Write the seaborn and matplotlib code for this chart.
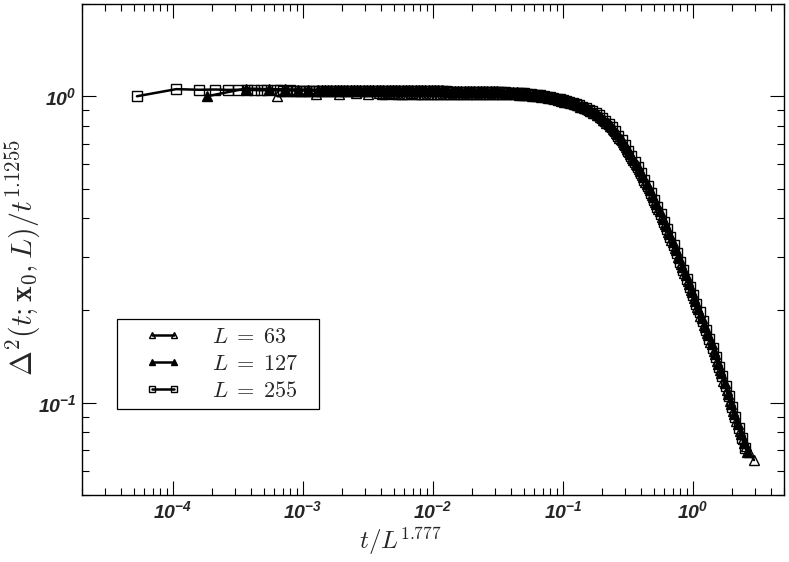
import matplotlib
matplotlib.use("Agg")
import matplotlib.pyplot as plt
from matplotlib.patches import Rectangle
import numpy as np
import seaborn as sns
from matplotlib.ticker import LogLocator, LogFormatterSciNotation, NullFormatter

# ---------------- data ----------------
labels = [r"$L\;=\;63$", r"$L\;=\;127$", r"$L\;=\;255$"]

# L = 63 (open triangles)
x_L63 = [6.35e-4, 1.27e-3, 1.91e-3, 2.54e-3, 3.18e-3,
         3.83e-3, 4.30e-3, 4.82e-3, 5.41e-3, 6.07e-3, 6.81e-3, 7.64e-3, 8.57e-3, 9.62e-3, 1.08e-2,
         1.21e-2, 1.36e-2, 1.53e-2, 1.71e-2, 1.92e-2, 2.15e-2, 2.42e-2, 2.71e-2, 3.04e-2, 3.41e-2,
         3.83e-2, 4.30e-2, 4.82e-2, 5.41e-2, 6.07e-2, 6.81e-2, 7.64e-2, 8.57e-2, 9.62e-2,
         0.108, 0.121, 0.136, 0.153, 0.171, 0.192, 0.215, 0.242, 0.271, 0.304,
         0.341, 0.383, 0.430, 0.482, 0.541, 0.607, 0.681, 0.764, 0.857, 0.962,
         1.08, 1.21, 1.36, 1.53, 1.71, 1.92, 2.15, 2.42, 2.71, 2.94]
y_L63 = [1.000, 1.018, 1.020, 1.021, 1.020,
         1.021, 1.020, 1.021, 1.020, 1.020, 1.021, 1.020, 1.019, 1.020, 1.019,
         1.019, 1.020, 1.019, 1.018, 1.019, 1.018, 1.018, 1.017, 1.017, 1.016,
         1.015, 1.014, 1.012, 1.008, 1.003, 0.997, 0.989, 0.979, 0.968,
         0.955, 0.941, 0.925, 0.906, 0.883, 0.855, 0.820, 0.780, 0.733, 0.682,
         0.629, 0.577, 0.526, 0.476, 0.428, 0.382, 0.339, 0.300, 0.265, 0.233,
         0.205, 0.180, 0.158, 0.137, 0.118, 0.101, 0.087, 0.076, 0.069, 0.065]
x_L63_b = [4.06e-3, 4.55e-3, 5.11e-3, 5.73e-3, 6.43e-3, 7.21e-3, 8.09e-3, 9.08e-3,
           1.02e-2, 1.14e-2, 1.28e-2, 1.44e-2, 1.61e-2, 1.81e-2, 2.03e-2, 2.28e-2, 2.56e-2, 2.87e-2,
           3.22e-2, 3.61e-2, 4.06e-2, 4.55e-2, 5.11e-2, 5.73e-2, 6.43e-2, 7.21e-2, 8.09e-2, 9.08e-2,
           0.102, 0.114, 0.128, 0.144, 0.161, 0.181, 0.203, 0.228, 0.256, 0.287,
           0.322, 0.361, 0.406, 0.455, 0.511, 0.573, 0.643, 0.721, 0.809, 0.908,
           1.02, 1.14, 1.28, 1.44, 1.61, 1.81, 2.03, 2.28, 2.56]
y_L63_b = [1.020, 1.021, 1.020, 1.020, 1.020, 1.020, 1.019, 1.020,
           1.019, 1.019, 1.019, 1.019, 1.018, 1.018, 1.018, 1.018, 1.017, 1.017,
           1.016, 1.015, 1.014, 1.013, 1.010, 1.005, 1.000, 0.993, 0.984, 0.973,
           0.961, 0.948, 0.933, 0.916, 0.895, 0.869, 0.838, 0.800, 0.757, 0.708,
           0.656, 0.603, 0.552, 0.501, 0.452, 0.405, 0.361, 0.320, 0.283, 0.249,
           0.219, 0.192, 0.169, 0.148, 0.128, 0.110, 0.094, 0.081, 0.072]

# L = 127 (filled triangles)
x_L127 = [1.83e-4, 3.65e-4, 5.48e-4, 7.31e-4, 9.13e-4, 1.10e-3,
          1.31e-3, 1.47e-3, 1.65e-3, 1.85e-3, 2.08e-3, 2.33e-3, 2.61e-3, 2.93e-3, 3.29e-3,
          3.69e-3, 4.14e-3, 4.65e-3, 5.21e-3, 5.85e-3, 6.56e-3, 7.36e-3, 8.26e-3, 9.27e-3,
          1.04e-2, 1.17e-2, 1.31e-2, 1.47e-2, 1.65e-2, 1.85e-2, 2.08e-2, 2.33e-2, 2.61e-2, 2.93e-2,
          3.29e-2, 3.69e-2, 4.14e-2, 4.65e-2, 5.21e-2, 5.85e-2, 6.56e-2, 7.36e-2, 8.26e-2, 9.27e-2,
          0.104, 0.117, 0.131, 0.147, 0.165, 0.185, 0.208, 0.233, 0.261, 0.293,
          0.329, 0.369, 0.414, 0.465, 0.521, 0.585, 0.656, 0.736, 0.826, 0.927,
          1.04, 1.17, 1.31, 1.47, 1.65, 1.85, 2.08, 2.33, 2.61]
y_L127 = [1.000, 1.060, 1.055, 1.053, 1.052, 1.051,
          1.050, 1.050, 1.049, 1.050, 1.049, 1.049, 1.048, 1.049, 1.048,
          1.048, 1.047, 1.048, 1.047, 1.047, 1.046, 1.047, 1.046, 1.046,
          1.045, 1.045, 1.044, 1.044, 1.043, 1.042, 1.042, 1.041, 1.040, 1.038,
          1.036, 1.034, 1.031, 1.027, 1.022, 1.016, 1.008, 0.999, 0.989, 0.978,
          0.966, 0.951, 0.937, 0.918, 0.897, 0.870, 0.838, 0.797, 0.752, 0.700,
          0.647, 0.595, 0.544, 0.493, 0.444, 0.398, 0.354, 0.314, 0.277, 0.244,
          0.215, 0.189, 0.166, 0.144, 0.125, 0.107, 0.092, 0.079, 0.069]
x_L127_b = [1.39e-3, 1.56e-3, 1.75e-3, 1.96e-3, 2.20e-3, 2.47e-3, 2.77e-3, 3.11e-3, 3.48e-3,
            3.91e-3, 4.39e-3, 4.92e-3, 5.52e-3, 6.19e-3, 6.95e-3, 7.80e-3, 8.75e-3, 9.82e-3,
            1.10e-2, 1.24e-2, 1.39e-2, 1.56e-2, 1.75e-2, 1.96e-2, 2.20e-2, 2.47e-2, 2.77e-2, 3.11e-2,
            3.48e-2, 3.91e-2, 4.39e-2, 4.92e-2, 5.52e-2, 6.19e-2, 6.95e-2, 7.80e-2, 8.75e-2, 9.82e-2,
            0.110, 0.124, 0.139, 0.156, 0.175, 0.196, 0.220, 0.247, 0.277, 0.311,
            0.348, 0.391, 0.439, 0.492, 0.552, 0.619, 0.695, 0.780, 0.875, 0.982,
            1.10, 1.24, 1.39, 1.56, 1.75, 1.96, 2.20, 2.47]
y_L127_b = [1.050, 1.049, 1.049, 1.049, 1.049, 1.048, 1.048, 1.048, 1.048,
            1.047, 1.047, 1.047, 1.047, 1.046, 1.046, 1.046, 1.046, 1.045,
            1.045, 1.044, 1.044, 1.043, 1.043, 1.042, 1.041, 1.040, 1.039, 1.037,
            1.035, 1.032, 1.029, 1.025, 1.019, 1.012, 1.004, 0.994, 0.984, 0.972,
            0.959, 0.944, 0.928, 0.908, 0.884, 0.854, 0.818, 0.775, 0.726, 0.674,
            0.621, 0.570, 0.519, 0.469, 0.421, 0.376, 0.334, 0.296, 0.261, 0.230,
            0.202, 0.177, 0.155, 0.134, 0.116, 0.099, 0.085, 0.074]

# L = 255 (open squares)
x_L255 = [5.29e-5, 1.06e-4, 1.59e-4, 2.12e-4, 2.65e-4, 3.17e-4, 3.70e-4, 4.23e-4, 4.76e-4, 5.29e-4,
          6.31e-4, 7.08e-4, 7.94e-4, 8.91e-4, 1.00e-3, 1.12e-3, 1.26e-3, 1.41e-3, 1.58e-3, 1.78e-3,
          2.00e-3, 2.24e-3, 2.51e-3, 2.82e-3, 3.16e-3, 3.55e-3, 3.98e-3, 4.47e-3, 5.01e-3, 5.62e-3,
          6.31e-3, 7.08e-3, 7.94e-3, 8.91e-3, 1.00e-2, 1.12e-2, 1.26e-2, 1.41e-2, 1.58e-2, 1.78e-2,
          2.00e-2, 2.24e-2, 2.51e-2, 2.82e-2, 3.16e-2, 3.55e-2, 3.98e-2, 4.47e-2, 5.01e-2, 5.62e-2,
          6.31e-2, 7.08e-2, 7.94e-2, 8.91e-2, 0.100, 0.112, 0.126, 0.141, 0.158, 0.178,
          0.200, 0.224, 0.251, 0.282, 0.316, 0.355, 0.398, 0.447, 0.501, 0.562,
          0.631, 0.708, 0.794, 0.891, 1.00, 1.12, 1.26, 1.41, 1.58, 1.78,
          2.00, 2.24, 2.51]
y_L255 = [1.000, 1.055, 1.050, 1.052, 1.049, 1.050, 1.047, 1.048, 1.046, 1.046,
          1.045, 1.044, 1.045, 1.043, 1.044, 1.043, 1.042, 1.043, 1.042, 1.041,
          1.042, 1.041, 1.040, 1.041, 1.040, 1.040, 1.039, 1.040, 1.039, 1.039,
          1.038, 1.039, 1.038, 1.038, 1.037, 1.038, 1.037, 1.036, 1.036, 1.035,
          1.035, 1.034, 1.033, 1.032, 1.031, 1.029, 1.027, 1.024, 1.021, 1.016,
          1.010, 1.002, 0.993, 0.982, 0.970, 0.956, 0.942, 0.925, 0.905, 0.880,
          0.850, 0.812, 0.768, 0.718, 0.665, 0.612, 0.561, 0.510, 0.460, 0.413,
          0.368, 0.326, 0.288, 0.254, 0.224, 0.197, 0.173, 0.151, 0.131, 0.113,
          0.097, 0.083, 0.071]
x_L255_b = [6.68e-4, 7.50e-4, 8.41e-4, 9.44e-4,
            1.06e-3, 1.19e-3, 1.33e-3, 1.50e-3, 1.68e-3, 1.88e-3, 2.11e-3, 2.37e-3, 2.66e-3, 2.99e-3,
            3.35e-3, 3.76e-3, 4.22e-3, 4.73e-3, 5.31e-3, 5.96e-3, 6.68e-3, 7.50e-3, 8.41e-3, 9.44e-3,
            1.06e-2, 1.19e-2, 1.33e-2, 1.50e-2, 1.68e-2, 1.88e-2, 2.11e-2, 2.37e-2, 2.66e-2, 2.99e-2,
            3.35e-2, 3.76e-2, 4.22e-2, 4.73e-2, 5.31e-2, 5.96e-2, 6.68e-2, 7.50e-2, 8.41e-2, 9.44e-2,
            0.106, 0.119, 0.133, 0.150, 0.168, 0.188, 0.211, 0.237, 0.266, 0.299,
            0.335, 0.376, 0.422, 0.473, 0.531, 0.596, 0.668, 0.750, 0.841, 0.944,
            1.06, 1.19, 1.33, 1.50, 1.68, 1.88, 2.11, 2.37]
y_L255_b = [1.045, 1.044, 1.044, 1.044,
            1.043, 1.043, 1.042, 1.042, 1.041, 1.041, 1.041, 1.040, 1.040, 1.040,
            1.040, 1.039, 1.039, 1.039, 1.039, 1.038, 1.038, 1.038, 1.038, 1.037,
            1.037, 1.037, 1.036, 1.036, 1.035, 1.035, 1.034, 1.033, 1.032, 1.031,
            1.030, 1.028, 1.025, 1.023, 1.019, 1.013, 1.006, 0.998, 0.988, 0.976,
            0.963, 0.949, 0.934, 0.915, 0.893, 0.866, 0.832, 0.791, 0.744, 0.692,
            0.638, 0.586, 0.535, 0.485, 0.436, 0.390, 0.347, 0.307, 0.271, 0.239,
            0.210, 0.185, 0.162, 0.141, 0.122, 0.105, 0.090, 0.077]

series_x = [x_L63 + x_L63_b, x_L127 + x_L127_b, x_L255 + x_L255_b]
series_y = [y_L63 + y_L63_b, y_L127 + y_L127_b, y_L255 + y_L255_b]

# ---------------- style ----------------
sns.set_theme(style="ticks")
plt.rcParams.update({
    "font.family": ["Liberation Sans", "DejaVu Sans"],
    "font.weight": "bold",
    "font.style": "italic",
    "axes.linewidth": 1.0,
    "axes.edgecolor": "black",
})

fig = plt.figure(figsize=(7.89, 5.62), dpi=100)
ax = fig.add_axes([82 / 789, 1 - 495 / 562, 702 / 789, 491 / 562])
ax.set_xscale("log")
ax.set_yscale("log")

styles = [("^", "none"), ("^", "black"), ("s", "none")]
for lab, xs, ys, (mk, fc) in zip(labels, series_x, series_y, styles):
    sns.lineplot(x=xs, y=ys, ax=ax, color="black", linewidth=1.8,
                 marker=mk, markersize=7.5, markerfacecolor=fc,
                 markeredgecolor="black", markeredgewidth=1.0,
                 label=lab, estimator=None, sort=True)

ax.set_xlim(2e-5, 5)
ax.set_ylim(0.05, 2)

for axis in (ax.xaxis, ax.yaxis):
    axis.set_major_locator(LogLocator(base=10, numticks=20))
    axis.set_minor_locator(LogLocator(base=10, subs=np.arange(2, 10), numticks=20))
    axis.set_major_formatter(LogFormatterSciNotation())
    axis.set_minor_formatter(NullFormatter())

ax.tick_params(which="both", direction="in", top=True, right=True, color="black",
               width=0.8, labelsize=14, pad=4)
ax.tick_params(which="major", length=10)
ax.tick_params(which="minor", length=5)

ax.set_xlabel(r"$t/L^{1.777}$", fontsize=18, math_fontfamily="cm")
ax.set_ylabel(r"$\Delta^2(t;\mathbf{x}_0,L)/t^{1.1255}$", fontsize=21.5, math_fontfamily="cm")
ax.xaxis.set_label_coords(0.454, -0.062)
ax.yaxis.set_label_coords(-0.057, 0.483)

# legend box (frame drawn separately to match the reference padding)
ax.add_patch(Rectangle((35 / 702, 86 / 491), 202 / 702, 90 / 491, transform=ax.transAxes,
                       facecolor="white", edgecolor="black", linewidth=0.9, zorder=4))
leg = ax.legend(loc="upper left", bbox_to_anchor=(63 / 702, 168 / 491), borderaxespad=0,
                frameon=False, fontsize=16, markerscale=0.65, numpoints=2,
                handlelength=1.6, handletextpad=1.4, borderpad=0, labelspacing=0.27)
leg.set_zorder(5)
for t in leg.get_texts():
    t.set_math_fontfamily("cm")

fig.savefig("out.png", dpi=100)
